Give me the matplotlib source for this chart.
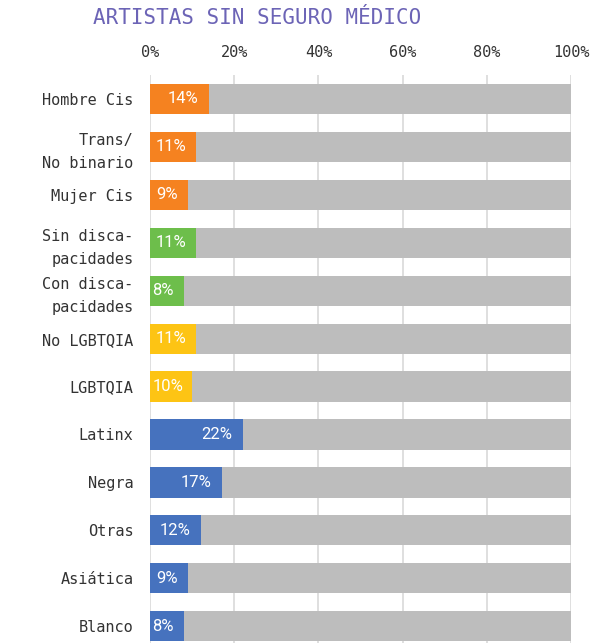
import matplotlib
matplotlib.use("Agg")
from matplotlib import pyplot as plt

categories = [
    "Hombre Cis", "Trans/\nNo binario", "Mujer Cis",
    "Sin disca-\npacidades", "Con disca-\npacidades",
    "No LGBTQIA", "LGBTQIA",
    "Latinx", "Negra", "Otras", "Asiática", "Blanco",
]
values = [14, 11, 9, 11, 8, 11, 10, 22, 17, 12, 9, 8]
groups = ["gender"] * 3 + ["disability"] * 2 + ["lgbt"] * 2 + ["race"] * 5
group_colors = {
    "gender": "#F58220",
    "disability": "#6DBE4B",
    "lgbt": "#FDC414",
    "race": "#4672BE",
}
xticks = [0, 20, 40, 60, 80, 100]

mono = "DejaVu Sans Mono"

fig = plt.figure(figsize=(6.12, 6.43), dpi=100)
ax = fig.add_axes([150 / 612, 0, 421 / 612, 568 / 643])

ypos = list(range(len(categories)))
ax.barh(ypos, [100] * len(values), height=0.63, color="#BDBDBD", zorder=2)
ax.barh(ypos, values, height=0.63,
        color=[group_colors[g] for g in groups], zorder=3)

ax.set_xlim(0, 100)
ax.set_ylim(11.35, -0.5)

labels = []
for y, v in zip(ypos, values):
    t = ax.annotate(f"{v}%", (v, y), xytext=(-7.5, 0), textcoords="offset points",
                    ha="right", va="center", color="white",
                    fontsize=12, family="Roboto", zorder=4)
    labels.append(t)

# keep labels inside short bars: shift right if they spill past the left edge
fig.canvas.draw()
renderer = fig.canvas.get_renderer()
ax_left = ax.get_window_extent().x0
for t in labels:
    bb = t.get_window_extent(renderer)
    min_left = ax_left + 2.5
    if bb.x0 < min_left:
        dx = (min_left - bb.x0) * 72 / fig.dpi
        x0, y0 = t.xyann
        t.xyann = (x0 + dx, y0)

ax.set_xticks(xticks)
ax.set_xticklabels([f"{t}%" for t in xticks], family=mono, fontsize=11,
                   color="#333333")
ax.xaxis.tick_top()
ax.tick_params(axis="x", length=0, pad=11)
ax.set_yticks(ypos)
ax.set_yticklabels(categories, family=mono, fontsize=11, color="#333333",
                   linespacing=1.65)
ax.tick_params(axis="y", length=0, pad=12)
ax.grid(axis="x", color="#D9D9D9", linewidth=1.2, zorder=0)
ax.set_axisbelow(True)
for s in ax.spines.values():
    s.set_visible(False)

fig.text(257 / 612, 1 - 18 / 643, "ARTISTAS SIN SEGURO MÉDICO", family=mono,
         fontsize=15, color="#6C64B6", ha="center", va="center")

fig.savefig("out.png", dpi=100)
plt.close()
